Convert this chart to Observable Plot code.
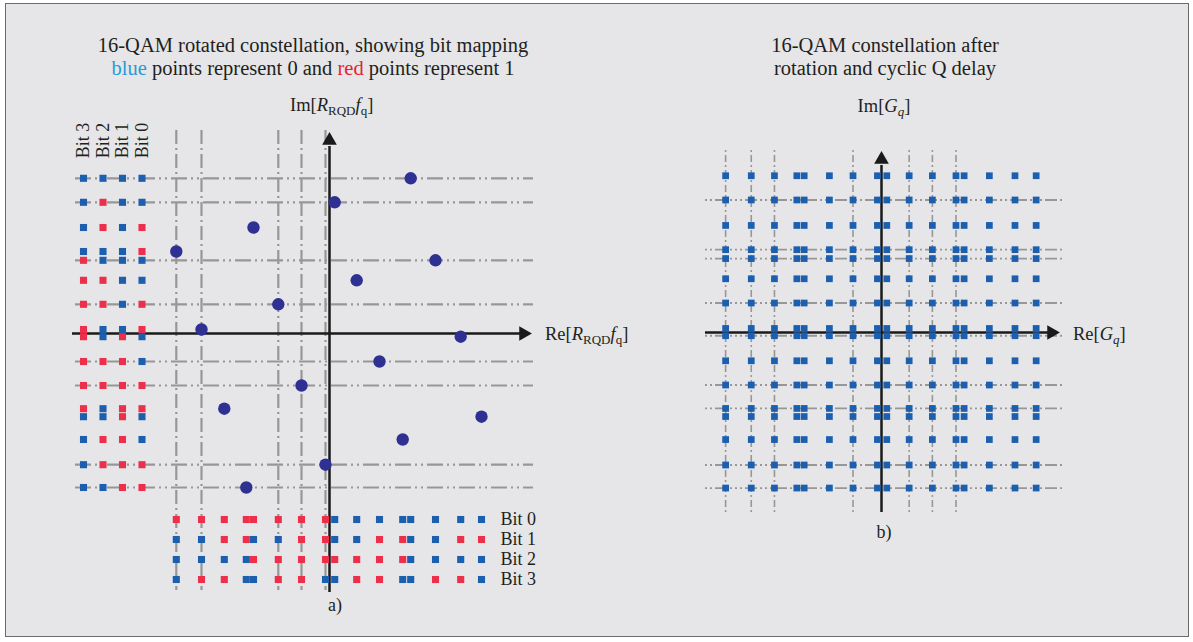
<!DOCTYPE html>
<html><head><meta charset="utf-8">
<script src="https://cdn.jsdelivr.net/npm/d3@7"></script>
<script src="https://cdn.jsdelivr.net/npm/@observablehq/plot@0.6"></script>
<style>
body{margin:0;background:#fff;font-family:"Liberation Serif","DejaVu Serif",serif;}
#frame{position:absolute;left:5px;top:3px;width:1182px;height:632px;border:1px solid #6a6a6a;background:#e6e6e8;}
.t{position:absolute;color:#231f20;white-space:nowrap;font-size:20.5px;line-height:20px;}
.c{transform:translateX(-50%);}
.t sub{font-size:13px;vertical-align:-4px;line-height:0;}
svg{position:absolute;overflow:visible;}
</style></head>
<body>
<div id="frame"></div>
<div class="t c" style="left:313px;top:35px">16-QAM rotated constellation, showing bit mapping</div>
<div class="t c" style="left:313px;top:58px"><span style="color:#2a9ad6">blue</span> points represent 0 and <span style="color:#e8202e">red</span> points represent 1</div>
<div class="t c" style="left:885px;top:35px">16-QAM constellation after</div>
<div class="t c" style="left:885px;top:58px">rotation and cyclic Q delay</div>
<div class="t" style="left:290px;top:95px;font-size:18.5px">Im[<i>R</i><sub>RQD</sub><i>f</i><sub>q</sub>]</div>
<div class="t" style="left:545px;top:324px;font-size:18.5px">Re[<i>R</i><sub>RQD</sub><i>f</i><sub>q</sub>]</div>
<div class="t c" style="left:884px;top:96px;font-size:18.5px">Im[<i>G</i><sub><i>q</i></sub>]</div>
<div class="t" style="left:1073px;top:324px;font-size:18.5px">Re[<i>G</i><sub><i>q</i></sub>]</div>
<div class="t c" style="left:335px;top:595px;font-size:18px">a)</div>
<div class="t c" style="left:884px;top:522px;font-size:18px">b)</div>
<script>
// ---------------- data ----------------
// 16 rotated 16-QAM points (Re, Im) read from panel a)
const pointRe = [2.03, 0.13, -1.90, -3.83, 2.65, 0.68, -1.28, -3.20, 3.28, 1.25, -0.70, -2.63, 3.80, 1.83, -0.10, -2.08];
const pointIm = [3.88, 3.28, 2.65, 2.05, 1.83, 1.33, 0.73, 0.10, -0.08, -0.70, -1.30, -1.88, -2.08, -2.65, -3.28, -3.85];
// bit labels, written as Bit3 Bit2 Bit1 Bit0
const pointBits = ["0000","0100","0101","0001","1000","1100","1101","1001","1010","1110","1111","1011","0010","0110","0111","0011"];
const bitNames = ["Bit 3", "Bit 2", "Bit 1", "Bit 0"];
// which points (1-based) carry guide lines
const guideHA = [1, 2, 5, 7, 10, 11, 15, 16];
const guideVA = [4, 8, 7, 11, 15];
const guideHB = [2, 4, 5, 7, 9, 11, 12, 15, 16];
const guideVB = [4, 8, 12, 11, 6, 10, 14];

// ---------------- styles / layout ----------------
const blue = "#1c5fae", red = "#ec2f4b", navy = "#2e3192", guide = "#979797", axisC = "#1a1a1a";
const font = "Liberation Serif, DejaVu Serif, serif";
const LA = {left: 40, top: 95, width: 640, height: 535, x0: 329, y0: 333, sx: 40, sy: 40};
const LB = {left: 690, top: 110, width: 495, height: 440, x0: 881, y0: 332, sx: 40.7, sy: 40.4};
const toX = (L, px) => (px - L.x0) / L.sx;
const toY = (L, py) => (L.y0 - py) / L.sy;
const colX = k => toX(LA, 83 + 19.5 * k);   // columns for Bit 3..Bit 0
const rowY = b => toY(LA, 519 + 20 * b);    // rows for Bit 0..Bit 3

const pts = d3.range(16).map(i => ({re: pointRe[i], im: pointIm[i], bits: pointBits[i]}));
const leftBits = pts.flatMap(p => bitNames.map((nm, k) => ({x: colX(k), y: p.im, on: p.bits[k] === "1"})));
const bottomBits = pts.flatMap(p => [0, 1, 2, 3].map(b => ({x: p.re, y: rowY(b), on: p.bits[3 - b] === "1"})));
const grid = pts.flatMap(a => pts.map(b => ({x: a.re, y: b.im})));

function frame(L) {
  return {
    width: L.width, height: L.height,
    marginLeft: 0, marginRight: 0, marginTop: 0, marginBottom: 0,
    x: {domain: [toX(L, L.left), toX(L, L.left + L.width)], axis: null},
    y: {domain: [toY(L, L.top + L.height), toY(L, L.top)], axis: null},
    style: {background: "transparent", fontFamily: font, overflow: "visible"}
  };
}

const plotA = Plot.plot({
  ...frame(LA),
  marks: [
    Plot.ruleY(guideHA.map(n => pts[n - 1].im), {x1: toX(LA, 75), x2: toX(LA, 533), stroke: guide, strokeWidth: 2.2, strokeDasharray: "16,4,2,4,2,4"}),
    Plot.ruleX(guideVA.map(n => pts[n - 1].re), {y1: toY(LA, 130), y2: toY(LA, 590), stroke: guide, strokeWidth: 2.2, strokeDasharray: "14,4,2,4"}),
    Plot.ruleY([0], {x1: toX(LA, 72), x2: toX(LA, 520), stroke: axisC, strokeWidth: 2.5}),
    Plot.ruleX([0], {y1: toY(LA, 592), y2: toY(LA, 146), stroke: axisC, strokeWidth: 2.5}),
    Plot.dot([0], {x: toX(LA, 523), y: 0, symbol: "triangle2", rotate: 90, r: 7, fill: axisC}),
    Plot.dot([0], {x: 0, y: toY(LA, 140), symbol: "triangle2", r: 7, fill: axisC}),
    Plot.dot(leftBits, {x: "x", y: "y", symbol: "square", r: 4, fill: d => d.on ? red : blue}),
    Plot.dot(bottomBits, {x: "x", y: "y", symbol: "square", r: 4, fill: d => d.on ? red : blue}),
    Plot.dot(pts, {x: "re", y: "im", r: 6.2, fill: navy}),
    Plot.text(bitNames, {x: (d, k) => colX(k), y: toY(LA, 140), text: d => d, rotate: -90, fontSize: 18, fill: "#231f20"}),
    Plot.text([0, 1, 2, 3], {x: toX(LA, 500), y: b => rowY(b), text: b => "Bit " + b, textAnchor: "start", fontSize: 18, fill: "#231f20"})
  ]
});

const plotB = Plot.plot({
  ...frame(LB),
  marks: [
    Plot.ruleY(guideHB.map(n => pts[n - 1].im), {x1: toX(LB, 705), x2: toX(LB, 1063), stroke: guide, strokeWidth: 1.8, strokeDasharray: "2,3,2,3,12,3,2,3"}),
    Plot.ruleX(guideVB.map(n => pts[n - 1].re), {y1: toY(LB, 150), y2: toY(LB, 512), stroke: guide, strokeWidth: 1.6, strokeDasharray: "2,3,7,3"}),
    Plot.ruleY([0], {x1: toX(LB, 705), x2: toX(LB, 1048), stroke: axisC, strokeWidth: 2.5}),
    Plot.ruleX([0], {y1: toY(LB, 512), y2: toY(LB, 165), stroke: axisC, strokeWidth: 2.5}),
    Plot.dot([0], {x: toX(LB, 1051), y: 0, symbol: "triangle2", rotate: 90, r: 7, fill: axisC}),
    Plot.dot([0], {x: 0, y: toY(LB, 159), symbol: "triangle2", r: 7, fill: axisC}),
    Plot.dot(grid, {x: "x", y: "y", symbol: "square", r: 3.8, fill: blue})
  ]
});

for (const [svg, L] of [[plotA, LA], [plotB, LB]]) {
  svg.style.left = L.left + "px";
  svg.style.top = L.top + "px";
  document.body.appendChild(svg);
}
</script>
</body></html>
